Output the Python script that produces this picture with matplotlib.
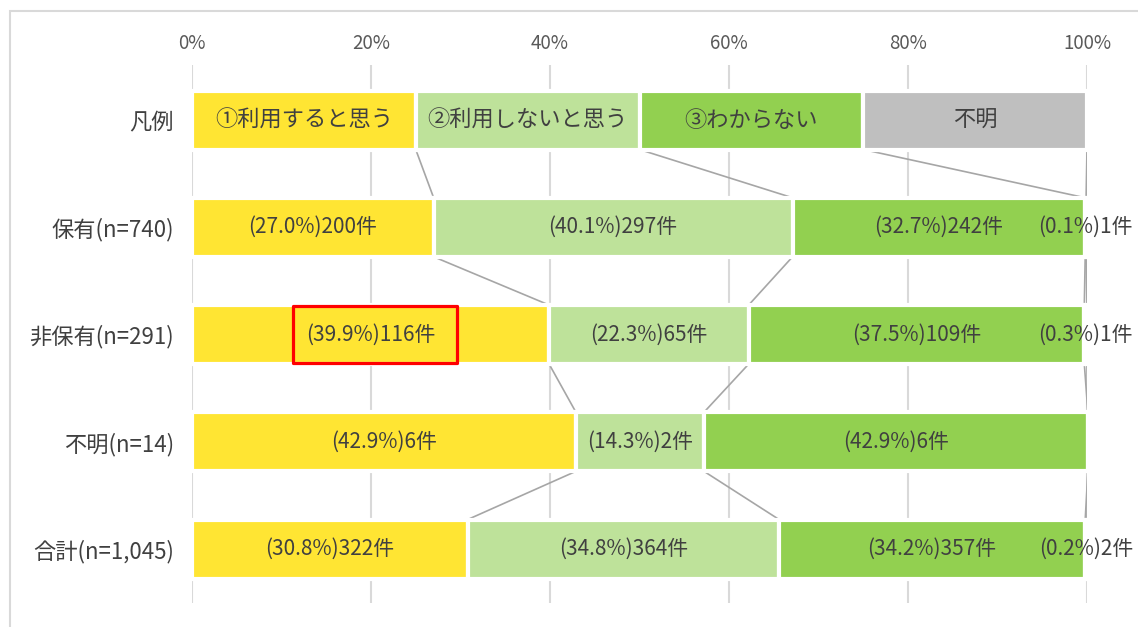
import matplotlib
matplotlib.use("Agg")
import matplotlib.pyplot as plt
from matplotlib.patches import Rectangle
import numpy as np

plt.rcParams['font.family'] = ['Noto Sans CJK JP', 'DejaVu Sans']

# ---- data ----
row_labels = ["凡例", "保有(n=740)", "非保有(n=291)", "不明(n=14)", "合計(n=1,045)"]
series_names = ["①利用すると思う", "②利用しないと思う", "③わからない", "不明"]
legend_share = [25, 25, 25, 25]

pct_use = [27.0, 39.9, 42.9, 30.8]
pct_not_use = [40.1, 22.3, 14.3, 34.8]
pct_unknown = [32.7, 37.5, 42.9, 34.2]
pct_na = [0.1, 0.3, 0.0, 0.2]

cnt_use = [200, 116, 6, 322]
cnt_not_use = [297, 65, 2, 364]
cnt_unknown = [242, 109, 6, 357]
cnt_na = [1, 1, 0, 2]

tick_values = [0, 20, 40, 60, 80, 100]
tick_labels = ["0%", "20%", "40%", "60%", "80%", "100%"]

colors = ["#FFE533", "#BEE29A", "#92D050", "#BFBFBF"]
text_color = "#404040"
bar_h = 0.55

# ---- figure ----
fig = plt.figure(figsize=(11.38, 6.27), dpi=100)
ax = fig.add_axes([192 / 1138, 24 / 627, 895 / 1138, 538 / 627])

pct_rows = np.array([legend_share,
                     *np.column_stack([pct_use, pct_not_use, pct_unknown, pct_na])],
                    dtype=float)
cnt_rows = np.column_stack([cnt_use, cnt_not_use, cnt_unknown, cnt_na])
n_rows = pct_rows.shape[0]
ypos = np.arange(n_rows)

lefts = np.zeros(n_rows)
for k in range(4):
    ax.barh(ypos, pct_rows[:, k], left=lefts, height=bar_h, color=colors[k],
            edgecolor="white", linewidth=3, zorder=3)
    centers = lefts + pct_rows[:, k] / 2
    for r in range(n_rows):
        if r == 0:
            label, size = series_names[k], 16
        else:
            cnt = cnt_rows[r - 1, k]
            if cnt == 0:
                continue
            label, size = f"({pct_rows[r, k]:.1f}%){cnt}件", 15
        ax.text(centers[r], ypos[r], label, ha="center", va="center",
                fontsize=size, color=text_color, zorder=5)
    lefts = lefts + pct_rows[:, k]

# series lines joining segment ends of neighbouring bars
ends = np.cumsum(pct_rows, axis=1)
for r in range(n_rows - 1):
    for k in range(4):
        ax.plot([ends[r, k], ends[r + 1, k]],
                [ypos[r] + bar_h / 2, ypos[r + 1] - bar_h / 2],
                color="#A6A6A6", linewidth=1.2, zorder=2, solid_capstyle="butt")

# highlight around the 非保有 / ① label
hl_row, hl_col = 2, 0
hl_center = ends[hl_row, hl_col] - pct_rows[hl_row, hl_col] / 2 + 0.5
hl_w, hl_hgt = 18.3, 0.54
ax.add_patch(Rectangle((hl_center - hl_w / 2, ypos[hl_row] - hl_hgt / 2), hl_w, hl_hgt,
                       fill=False, edgecolor="#FF0000", linewidth=2.3,
                       joinstyle="round", zorder=6))

# axes styling
ax.set_xlim(0, 100)
ax.set_ylim(4.503, -0.513)
ax.set_xticks(tick_values)
ax.set_xticklabels(tick_labels)
ax.xaxis.tick_top()
ax.set_yticks(ypos)
ax.set_yticklabels(row_labels)
ax.tick_params(axis="x", length=0, pad=8, labelsize=13.5, labelcolor="#595959")
ax.tick_params(axis="y", length=0, pad=13, labelsize=16, labelcolor=text_color)
ax.xaxis.grid(True, color="#D9D9D9", linewidth=1.5)
ax.set_axisbelow(True)
for s in ax.spines.values():
    s.set_visible(False)

# outer chart frame
fig.patches.append(Rectangle((10 / 1138, -0.05), 1.2, 1 - 11 / 627 + 0.05,
                             transform=fig.transFigure, fill=False,
                             edgecolor="#D9D9D9", linewidth=1.5))

fig.savefig("out.png", dpi=100)
